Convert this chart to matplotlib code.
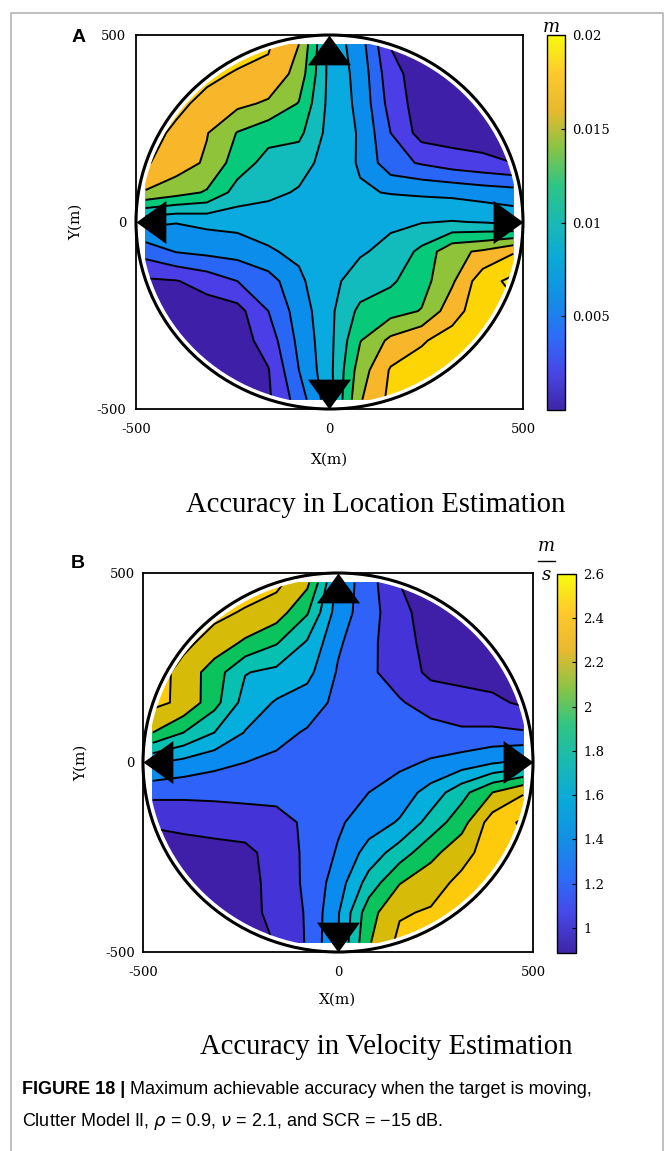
import numpy as np
import matplotlib
matplotlib.use('Agg')
import matplotlib.pyplot as plt
from matplotlib.colors import LinearSegmentedColormap, Normalize
from matplotlib.patches import Circle
from matplotlib.path import Path
import matplotlib.cm as cm

W, H = 666, 1151

# grid positions (m), rows go from top (north) to bottom (south)
grid_x = [-475, -396, -317, -238, -158, -79, 0, 79, 158, 238, 317, 396, 475]
grid_y = [475, 396, 317, 238, 158, 79, 0, -79, -158, -238, -317, -396, -475]

# panel A: location accuracy (m)
loc_acc = [
    [0.0190, 0.0190, 0.0190, 0.0190, 0.0182, 0.0160, 0.0093, 0.0069, 0.0019, 0.0010, 0.0010, 0.0010, 0.0010],
    [0.0190, 0.0190, 0.0185, 0.0178, 0.0176, 0.0152, 0.0094, 0.0073, 0.0027, 0.0010, 0.0009, 0.0009, 0.0009],
    [0.0190, 0.0185, 0.0174, 0.0165, 0.0157, 0.0139, 0.0094, 0.0075, 0.0032, 0.0010, 0.0009, 0.0009, 0.0009],
    [0.0188, 0.0176, 0.0161, 0.0139, 0.0127, 0.0125, 0.0093, 0.0078, 0.0040, 0.0012, 0.0010, 0.0010, 0.0010],
    [0.0182, 0.0170, 0.0157, 0.0130, 0.0113, 0.0108, 0.0092, 0.0078, 0.0047, 0.0038, 0.0030, 0.0025, 0.0020],
    [0.0158, 0.0148, 0.0138, 0.0112, 0.0105, 0.0098, 0.0092, 0.0082, 0.0079, 0.0077, 0.0075, 0.0071, 0.0068],
    [0.0086, 0.0081, 0.0085, 0.0087, 0.0088, 0.0090, 0.0090, 0.0094, 0.0097, 0.0099, 0.0101, 0.0099, 0.0094],
    [0.0048, 0.0061, 0.0065, 0.0068, 0.0078, 0.0084, 0.0092, 0.0098, 0.0105, 0.0125, 0.0155, 0.0163, 0.0178],
    [0.0017, 0.0019, 0.0028, 0.0040, 0.0051, 0.0076, 0.0095, 0.0108, 0.0117, 0.0132, 0.0157, 0.0192, 0.0205],
    [0.0010, 0.0010, 0.0010, 0.0013, 0.0040, 0.0069, 0.0095, 0.0125, 0.0132, 0.0141, 0.0172, 0.0192, 0.0195],
    [0.0010, 0.0010, 0.0010, 0.0010, 0.0029, 0.0065, 0.0094, 0.0139, 0.0165, 0.0178, 0.0188, 0.0192, 0.0195],
    [0.0010, 0.0010, 0.0010, 0.0010, 0.0019, 0.0060, 0.0094, 0.0150, 0.0182, 0.0188, 0.0190, 0.0192, 0.0195],
    [0.0010, 0.0010, 0.0010, 0.0010, 0.0017, 0.0049, 0.0092, 0.0158, 0.0185, 0.0190, 0.0190, 0.0190, 0.0190],
]

# panel B: velocity accuracy (m/s)
vel_acc = [
    [2.50, 2.50, 2.50, 2.50, 2.45, 2.25, 1.54, 1.28, 1.00, 0.91, 0.91, 0.91, 0.91],
    [2.50, 2.48, 2.45, 2.38, 2.30, 2.02, 1.50, 1.29, 1.05, 0.92, 0.91, 0.91, 0.91],
    [2.50, 2.45, 2.32, 2.17, 2.02, 1.78, 1.43, 1.25, 1.08, 0.93, 0.91, 0.91, 0.91],
    [2.50, 2.33, 2.10, 1.81, 1.75, 1.66, 1.38, 1.24, 1.10, 0.96, 0.93, 0.92, 0.92],
    [2.45, 2.36, 2.07, 1.72, 1.58, 1.50, 1.35, 1.28, 1.22, 1.11, 1.08, 1.04, 0.97],
    [2.20, 2.00, 1.80, 1.59, 1.46, 1.38, 1.31, 1.28, 1.27, 1.28, 1.23, 1.24, 1.22],
    [1.62, 1.54, 1.46, 1.40, 1.36, 1.33, 1.30, 1.30, 1.36, 1.42, 1.49, 1.58, 1.65],
    [1.26, 1.25, 1.25, 1.26, 1.27, 1.30, 1.33, 1.40, 1.49, 1.68, 1.93, 2.20, 2.38],
    [1.02, 1.05, 1.08, 1.10, 1.12, 1.24, 1.37, 1.50, 1.62, 1.88, 2.12, 2.50, 2.63],
    [0.92, 0.92, 0.93, 0.95, 1.08, 1.24, 1.42, 1.68, 1.90, 2.14, 2.33, 2.50, 2.55],
    [0.91, 0.91, 0.91, 0.93, 1.07, 1.24, 1.50, 1.88, 2.19, 2.32, 2.45, 2.50, 2.50],
    [0.91, 0.91, 0.92, 0.93, 1.06, 1.22, 1.58, 2.12, 2.38, 2.42, 2.50, 2.50, 2.50],
    [0.92, 0.92, 0.92, 0.92, 1.01, 1.22, 1.60, 2.18, 2.45, 2.50, 2.50, 2.50, 2.50],
]

loc_levels = [0.0, 0.002, 0.004, 0.006, 0.008, 0.010, 0.012, 0.014, 0.016, 0.018, 0.020, 0.030]
loc_colors = ['#3e1fa8', '#4b3ee6', '#2a66f6', '#0a8deb', '#09aadf', '#13bcbc',
              '#06c97a', '#8fc43a', '#f8b72b', '#fdd404', '#eef012']
loc_range = (0.0, 0.02)
loc_ticks = [0.005, 0.01, 0.015, 0.02]
loc_ticklabels = ['0.005', '0.01', '0.015', '0.02']

vel_levels = [0.8, 1.0, 1.2, 1.4, 1.6, 1.8, 2.0, 2.2, 2.4, 2.6, 3.0]
vel_colors = ['#3f1fa8', '#4433d6', '#2f62f8', '#0a8bf0', '#04aedd', '#08c0b0',
              '#0ac35c', '#d6bc08', '#fdcb0b', '#f0f100']
vel_range = (0.887, 2.6)
vel_ticks = [1.0, 1.2, 1.4, 1.6, 1.8, 2.0, 2.2, 2.4, 2.6]
vel_ticklabels = ['1', '1.2', '1.4', '1.6', '1.8', '2', '2.2', '2.4', '2.6']

# sensors on the rim of the surveillance circle
sensor_x = [0, 0, -500, 500]
sensor_y = [500, -500, 0, 0]
sensor_dir = ['up', 'down', 'left', 'right']
radius = 500

# parula-like colormap for the colour bars
parula = LinearSegmentedColormap.from_list('parula', [
    (0.00, '#3e26a8'), (0.10, '#4747e6'), (0.20, '#2c6ef8'), (0.30, '#1290e4'),
    (0.40, '#0aa8d8'), (0.50, '#19b9b4'), (0.60, '#2ec585'), (0.70, '#8ac445'),
    (0.80, '#e8b92e'), (0.90, '#fdc92d'), (1.00, '#f9fb0e')])

plt.rcParams['font.family'] = 'DejaVu Serif'
plt.rcParams['axes.unicode_minus'] = False

MOVE, LINE, CLOSE = Path.MOVETO, Path.LINETO, Path.CLOSEPOLY
codes = [MOVE, LINE, LINE, CLOSE]
tri = {
    'up': Path([(0, 0), (-0.72, -1), (0.72, -1), (0, 0)], codes),
    'down': Path([(0, 0), (-0.72, 1), (0.72, 1), (0, 0)], codes),
    'left': Path([(0, 0), (1, -0.72), (1, 0.72), (0, 0)], codes),
    'right': Path([(0, 0), (-1, -0.72), (-1, 0.72), (0, 0)], codes),
}


def rect(l, t, r, b):
    """pixel box (from top-left) -> figure fraction rect"""
    return [l / W, 1 - b / H, (r - l) / W, (b - t) / H]


def draw_panel(ax, cax, z, levels, colors, vrange, ticks, ticklabels, xlab_y, ylab_x, ypad):
    X, Y = np.meshgrid(grid_x, grid_y)
    Z = np.array(z)
    cf = ax.contourf(X, Y, Z, levels=levels, colors=colors)
    cl = ax.contour(X, Y, Z, levels=levels[1:-1], colors='k', linewidths=1.4)
    clip = Circle((0, 0), 487, transform=ax.transData)
    cf.set_clip_path(clip)
    cl.set_clip_path(clip)

    ax.add_patch(Circle((0, 0), radius, fill=False, ec='k', lw=2.2, clip_on=False, zorder=4))
    for sx, sy, d in zip(sensor_x, sensor_y, sensor_dir):
        ax.plot([sx], [sy], ls='none', marker=tri[d], ms=43, color='k',
                mew=0, clip_on=False, zorder=6)

    ax.set_xlim(-500, 500)
    ax.set_ylim(-500, 500)
    ax.set_xticks([-500, 0, 500])
    ax.set_yticks([-500, 0, 500])
    ax.tick_params(axis='x', length=0, labelsize=9.5, pad=10)
    ax.tick_params(axis='y', length=0, labelsize=9.5, pad=ypad)
    for s in ax.spines.values():
        s.set_linewidth(1.3)
    ax.set_xlabel('X(m)', fontsize=11, va='center')
    ax.xaxis.set_label_coords(0.5, xlab_y)
    ax.set_ylabel('Y(m)', fontsize=11, va='center')
    ax.yaxis.set_label_coords(ylab_x, 0.5)

    sm = cm.ScalarMappable(norm=Normalize(*vrange), cmap=parula)
    cb = plt.colorbar(sm, cax=cax, ticks=ticks)
    cb.ax.set_yticklabels(ticklabels)
    cb.outline.set_linewidth(1.0)
    cax.tick_params(direction='in', length=3, width=0.8, labelsize=9.5, pad=5)


fig = plt.figure(figsize=(W / 100, H / 100), dpi=100)
fig.patch.set_facecolor('white')

axA = fig.add_axes(rect(136, 35, 523, 409))
caxA = fig.add_axes(rect(547, 35, 565, 410))
axB = fig.add_axes(rect(143, 573, 533, 952))
caxB = fig.add_axes(rect(557, 574, 576, 953))

draw_panel(axA, caxA, loc_acc, loc_levels, loc_colors, loc_range, loc_ticks, loc_ticklabels,
           xlab_y=-0.136, ylab_x=-0.155, ypad=7)
draw_panel(axB, caxB, vel_acc, vel_levels, vel_colors, vel_range, vel_ticks, vel_ticklabels,
           xlab_y=-0.127, ylab_x=-0.159, ypad=6)

# overlay in pixel units for titles, unit labels, caption and frame
ov = fig.add_axes([0, 0, 1, 1], zorder=-1)
ov.set_xlim(0, W)
ov.set_ylim(0, H)
ov.axis('off')


def py(y):
    return H - y


ov.plot([11, 11, 663, 663], [0, py(13), py(13), 0], color='#b4b4b4', lw=1.2)

ov.text(79, py(37), 'A', fontsize=14, fontweight='bold', family='Liberation Sans',
        ha='center', va='center')
ov.text(78, py(563), 'B', fontsize=14, fontweight='bold', family='Liberation Sans',
        ha='center', va='center')

ov.text(551, py(27), 'm', fontsize=13, style='italic', ha='center', va='center')
ov.text(546, py(546), 'm', fontsize=13, style='italic', ha='center', va='center')
ov.plot([538, 555], [py(561), py(561)], color='k', lw=1.0)
ov.text(546, py(575), 's', fontsize=13, style='italic', ha='center', va='center')

ov.text(376, py(505), 'Accuracy in Location Estimation', fontsize=20.6,
        family='Liberation Serif', ha='center', va='center')
ov.text(386, py(1047), 'Accuracy in Velocity Estimation', fontsize=20.6,
        family='Liberation Serif', ha='center', va='center')

cap = ov.text(22, py(1090), 'FIGURE 18 |', fontsize=13, fontweight='bold',
              family='Liberation Sans', ha='left', va='center')
ov.annotate(' Maximum achievable accuracy when the target is moving,', xy=(1, 0),
            xycoords=cap, fontsize=13, family='Liberation Sans', ha='left', va='bottom')
ov.text(22, py(1122), 'Clutter Model II, $\\rho$ = 0.9, $\\nu$ = 2.1, and SCR = \u221215 dB.',
        fontsize=13, family='Liberation Sans', ha='left', va='center')

fig.savefig('out.png', dpi=100, facecolor='white')
